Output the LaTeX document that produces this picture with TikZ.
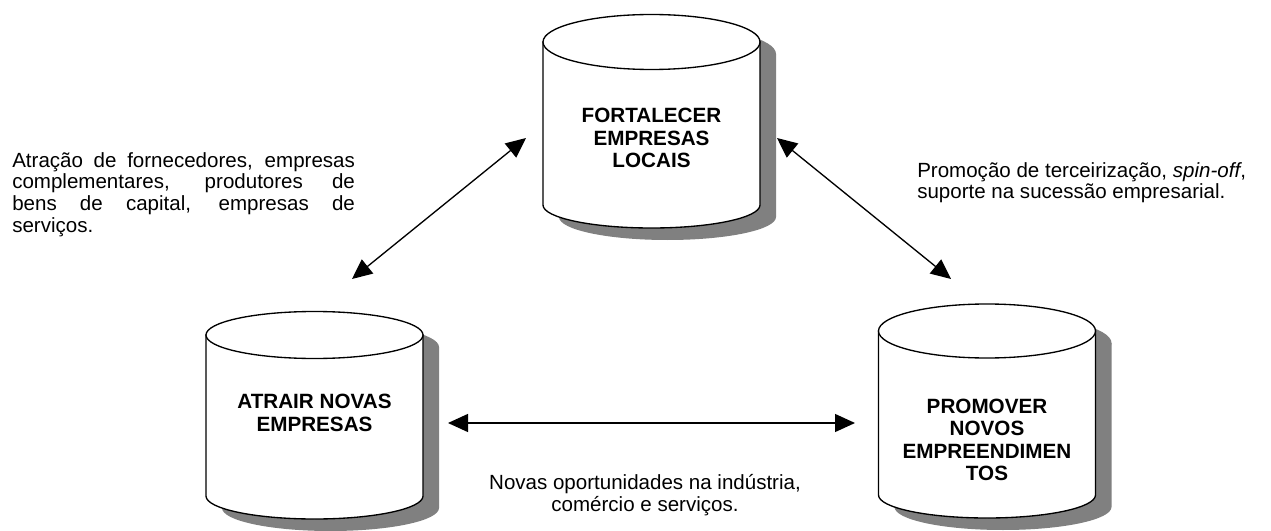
\documentclass[tikz,border=0pt]{standalone}
\usepackage{fontspec}
\setmainfont{Liberation Sans}
\usetikzlibrary{arrows.meta}

\begin{document}
\begin{tikzpicture}[x=0.75pt, y=-0.75pt,
    drum text/.style={font=\fontsize{15.5}{16.8}\selectfont\bfseries, align=center, inner sep=0pt},
    label text/.style={font=\fontsize{15.4}{16.3}\selectfont, inner sep=0pt},
    link/.style={line width=1pt, {Triangle[length=15pt, width=13.5pt]}-{Triangle[length=15pt, width=13.5pt]}}]
    \useasboundingbox (0,0) rectangle (1271,531);

    % Cylinders with their drop shadows
    \foreach \cx/\cy/\ry/\by in {651.5/42/27.5/205, 314.5/335/23.5/496, 987/331/27/495} {
        \begin{scope}[shift={(16,12)}]
            \fill[gray] (\cx-108.5,\cy) -- (\cx-108.5,\by) arc[start angle=180, end angle=0, x radius=108.5, y radius=23] -- (\cx+108.5,\cy) -- cycle;
            \fill[gray] (\cx,\cy) ellipse[x radius=108.5, y radius=\ry];
        \end{scope}
        \filldraw[fill=white, line width=1pt] (\cx-108.5,\cy) -- (\cx-108.5,\by) arc[start angle=180, end angle=0, x radius=108.5, y radius=23] -- (\cx+108.5,\cy) -- cycle;
        \filldraw[fill=white, line width=1pt] (\cx,\cy) ellipse[x radius=108.5, y radius=\ry];
    }

    % Cylinder labels
    \node[drum text] (fort) at (651.5,138) {FORTALECER\\EMPRESAS\\LOCAIS};
    \node[drum text] (atrair) at (314.5,413) {ATRAIR NOVAS\\EMPRESAS};
    \node[drum text] (promover) at (987,440) {PROMOVER\\NOVOS\\EMPREENDIMEN\\TOS};

    % Descriptions
    \node[label text, text width=257pt, align=justify, anchor=north west] (atracao) at (12,152)
        {Atração de fornecedores, empresas\linebreak complementares, produtores de\linebreak bens de capital, empresas de\linebreak serviços.};
    \node[label text, align=left, anchor=north west] (promocao) at (917,162)
        {Promoção de terceirização, \textit{spin-off},\\suporte na sucessão empresarial.};
    \node[label text, align=center, anchor=north] (oportunidades) at (645,474)
        {Novas oportunidades na indústria,\\comércio e serviços.};

    % Arrow ends
    \coordinate (fort-sw) at (526,138);
    \coordinate (atrair-ne) at (352,279);
    \coordinate (fort-se) at (777,138);
    \coordinate (promover-nw) at (951,279);
    \coordinate (atrair-e) at (448,423);
    \coordinate (promover-w) at (855,423);

    % Links between the three strategies
    \draw[link] (fort-sw) -- (atrair-ne);
    \draw[link] (fort-se) -- (promover-nw);
    \draw[link] (atrair-e) -- (promover-w);
\end{tikzpicture}
\end{document}
